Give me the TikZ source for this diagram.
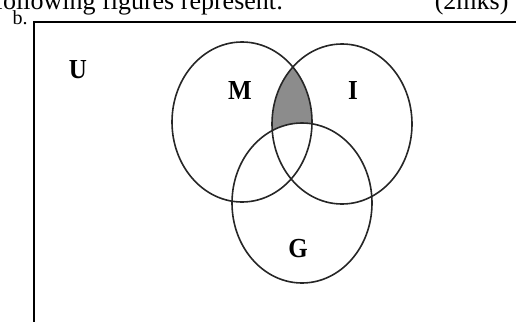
\documentclass[tikz,border=0pt]{standalone}
\usepackage{fontspec}
\setmainfont{Liberation Serif}
\usetikzlibrary{positioning}
\tikzset{
  setlabel/.style={font=\fontsize{25}{30}\selectfont\bfseries, yscale=1.1},
  setline/.style={line width=1.6pt, black!85},
  heading/.style={font=\fontsize{26}{30}\selectfont, anchor=base}
}
\begin{document}
\begin{tikzpicture}[x=1pt, y=-1pt]
    \useasboundingbox (0,0) rectangle (516,321);

    % --- HEADING (cut off at top) ---
    \node[heading, anchor=base west] (question) at (-9,10) {following figures represent:};
    \node[heading, anchor=base east] (marks) at (512,10) {(2mks)};
    \node[font=\fontsize{20}{22}\selectfont, anchor=base west] (part) at (9,25) {b.};

    % Universal set
    \draw[line width=1.7pt] (34,340) -- (34,22) -- (530,22);

    % Set centres
    \coordinate (cM) at (242,122);
    \coordinate (cI) at (342,124);
    \coordinate (cG) at (302,203);

    % Shaded region: M and I but not G
    \begin{scope}
        \clip (cM) ellipse [x radius=70, y radius=80];
        \clip (cI) ellipse [x radius=70, y radius=80];
        \fill[black!45, even odd rule] (cM) ellipse [x radius=70, y radius=80]
                                       (cG) ellipse [x radius=70, y radius=80];
    \end{scope}

    % Circles
    \draw[setline] (cM) ellipse [x radius=70, y radius=80];
    \draw[setline] (cI) ellipse [x radius=70, y radius=80];
    \draw[setline] (cG) ellipse [x radius=70, y radius=80];

    % Labels
    \node[setlabel] (lblU) at (78,70) {U};
    \node[setlabel] (lblM) at (240,90) {M};
    \node[setlabel] (lblI) at (353,90) {I};
    \node[setlabel] (lblG) at (298,249) {G};
\end{tikzpicture}
\end{document}
